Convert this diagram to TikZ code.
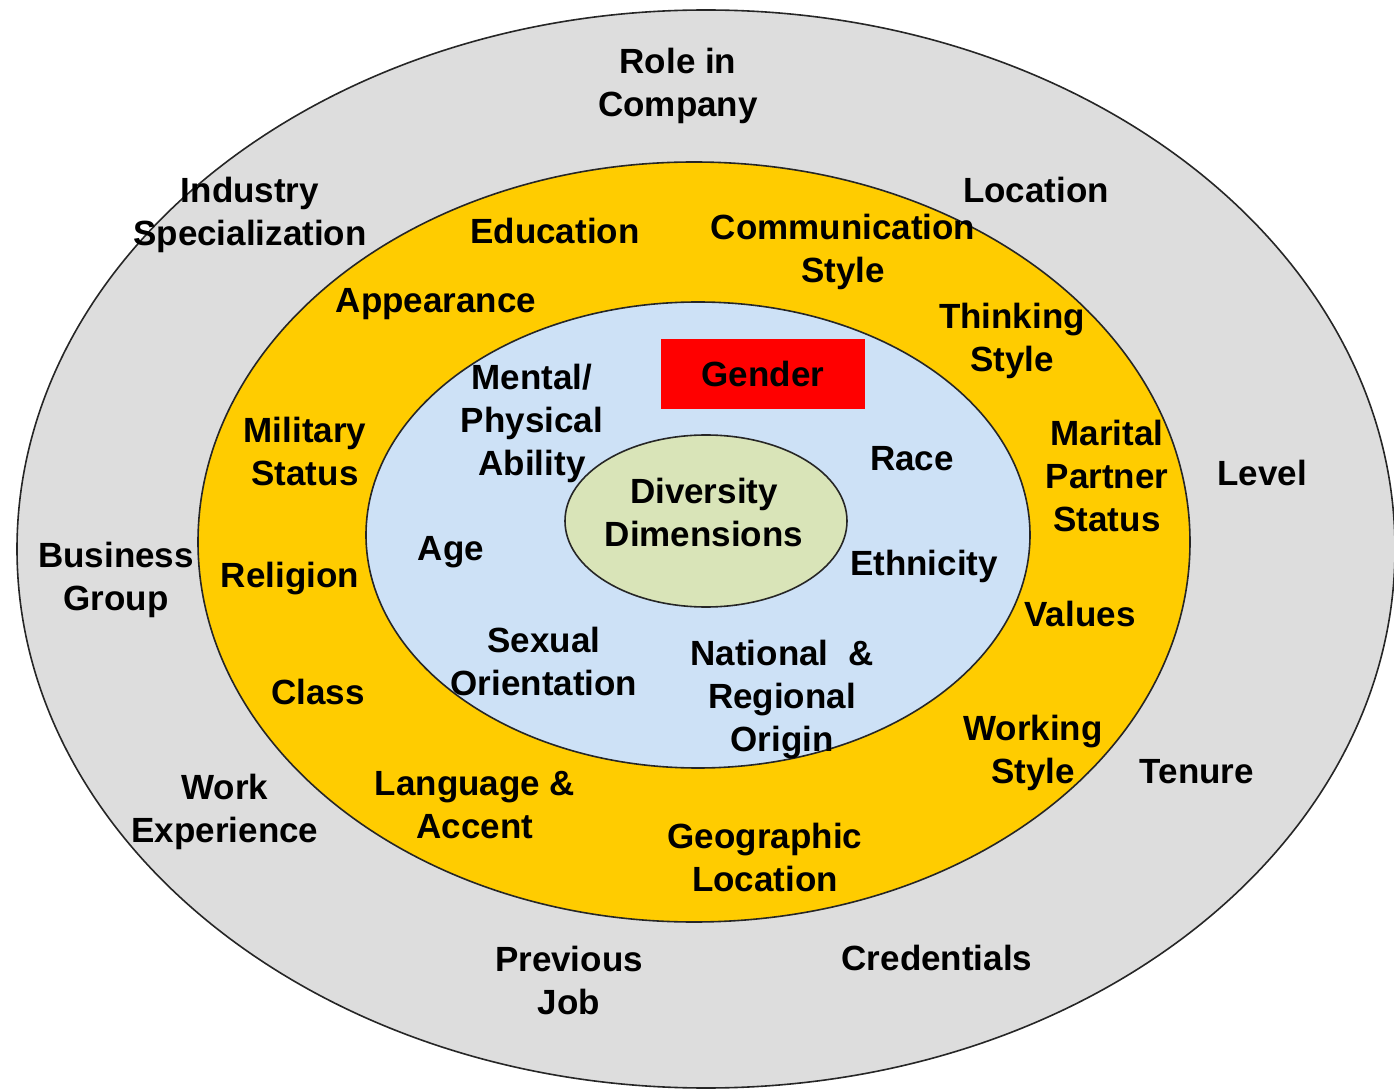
\documentclass[tikz,border=0pt]{standalone}
\usepackage{fontspec}
\setmainfont{Liberation Sans}
\usetikzlibrary{shapes.geometric}

\definecolor{ringgray}{HTML}{DDDDDD}
\definecolor{ringyellow}{HTML}{FFCC00}
\definecolor{ringblue}{HTML}{CDE1F6}
\definecolor{coregreen}{HTML}{D9E4B8}
\definecolor{genderred}{HTML}{FF0000}

\begin{document}
\begin{tikzpicture}[x=0.5pt, y=-0.5pt,
    ring/.style={draw=black!85, line width=0.8pt},
    dim/.style={font=\fontsize{17.5}{21.5}\selectfont\bfseries, align=center, inner sep=0pt, text=black},
    core/.style={ellipse, ring, fill=coregreen, minimum width=141pt, minimum height=86pt, inner sep=0pt}]

    \useasboundingbox (0,0) rectangle (1394,1091);

    % Rings
    \draw[ring, fill=ringgray]   (706,549) ellipse [x radius=689, y radius=539];
    \draw[ring, fill=ringyellow] (694,542) ellipse [x radius=496, y radius=380];
    \draw[ring, fill=ringblue]   (698,535) ellipse [x radius=332, y radius=233];

    % Core
    \node[core] (core) at (706,521) {};
    \node[dim] (diversity) at (704,512) {Diversity\\Dimensions};
    \node[dim, fill=genderred, minimum width=102pt, minimum height=35pt] (gender) at (763,374) {Gender};

    % Inner ring
    \node[dim] (ability)   at (532,423) {Mental/\\Physical\\Ability};
    \node[dim] (race)      at (912,459) {Race};
    \node[dim] (age)       at (451,552) {Age};
    \node[dim] (ethnicity) at (924,566) {Ethnicity};
    \node[dim] (sexual)    at (544,661) {Sexual\\Orientation};
    \node[dim] (origin)    at (782,700) {National\ \ \&\\Regional\\Origin};

    % Middle ring
    \node[dim] (education)   at (555,231) {Education};
    \node[dim] (commstyle)   at (843,252) {Communication\\Style};
    \node[dim] (appearance)  at (436,304) {Appearance};
    \node[dim] (thinking)    at (1012,341) {Thinking\\Style};
    \node[dim] (military)    at (305,451) {Military\\Status};
    \node[dim] (marital)     at (1107,476) {Marital\\Partner\\Status};
    \node[dim] (religion)    at (290,579) {Religion};
    \node[dim] (values)      at (1080,614) {Values};
    \node[dim] (class)       at (318,692) {Class};
    \node[dim] (working)     at (1033,753) {Working\\Style};
    \node[dim] (language)    at (475,805) {Language \&\\Accent};
    \node[dim] (geographic)  at (765,857) {Geographic\\Location};

    % Outer ring
    \node[dim] (role)        at (678,86)  {Role in\\Company};
    \node[dim] (industry)    at (250,215) {Industry\\Specialization};
    \node[dim] (location)    at (1036,190) {Location};
    \node[dim] (level)       at (1262,473) {Level};
    \node[dim] (business)    at (116,580) {Business\\Group};
    \node[dim] (tenure)      at (1197,772) {Tenure};
    \node[dim] (workexp)     at (225,812) {Work\\Experience};
    \node[dim] (previous)    at (569,980) {Previous\\Job};
    \node[dim] (credentials) at (937,958) {Credentials};

\end{tikzpicture}
\end{document}
